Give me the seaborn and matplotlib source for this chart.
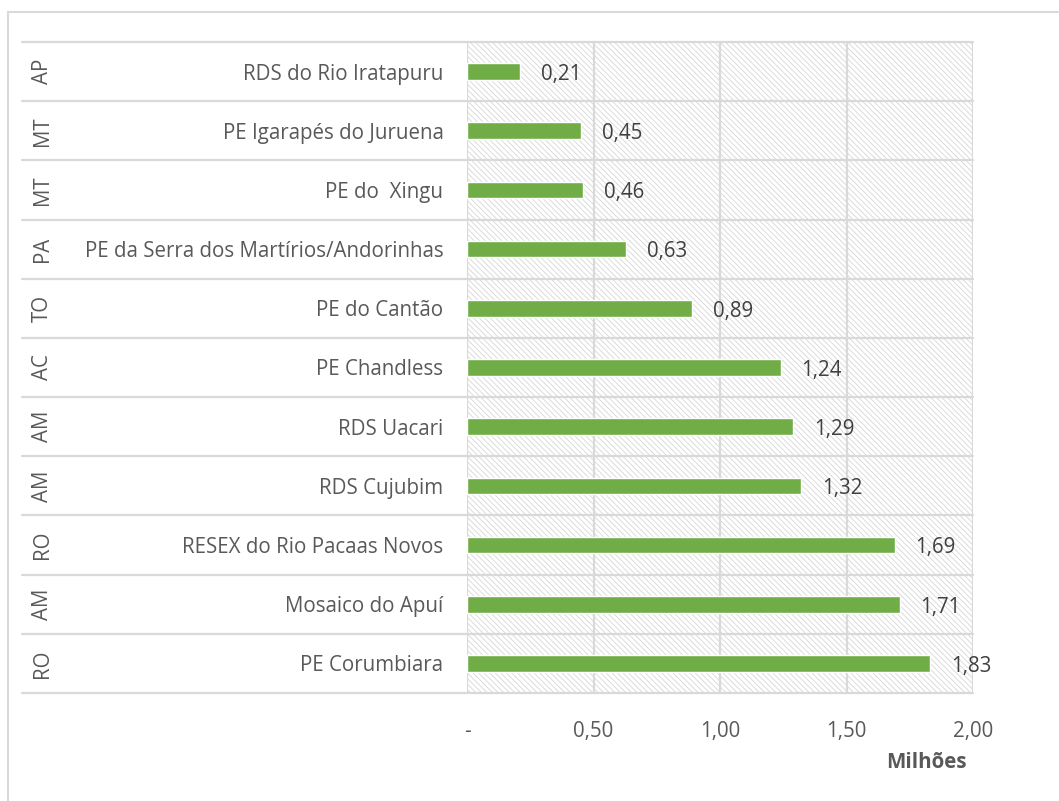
import matplotlib
matplotlib.use("Agg")
import matplotlib.pyplot as plt
from matplotlib.patches import Rectangle
from matplotlib.lines import Line2D
import seaborn as sns
import pandas as pd

states = ["AP", "MT", "MT", "PA", "TO", "AC", "AM", "AM", "RO", "AM", "RO"]
units = ["RDS do Rio Iratapuru", "PE Igarapés do Juruena", "PE do  Xingu",
         "PE da Serra dos Martírios/Andorinhas", "PE do Cantão", "PE Chandless",
         "RDS Uacari", "RDS Cujubim", "RESEX do Rio Pacaas Novos",
         "Mosaico do Apuí", "PE Corumbiara"]
values = [0.21, 0.45, 0.46, 0.63, 0.89, 1.24, 1.29, 1.32, 1.69, 1.71, 1.83]
xticks = [0, 0.5, 1.0, 1.5, 2.0]
xticklabels = ["-", "0,50", "1,00", "1,50", "2,00"]

sns.set_theme(style="white")
plt.rcParams["font.family"] = ["Open Sans", "DejaVu Sans"]
plt.rcParams["hatch.linewidth"] = 0.6

TXT = "#595959"
GRID = "#d9d9d9"
FS = 14.8
W, H = 1059, 801

df = pd.DataFrame({"unit": units, "value": values, "state": states})

fig = plt.figure(figsize=(W / 100, H / 100), dpi=100)
ax = fig.add_axes([467 / W, 1 - 693 / H, (973 - 467) / W, (693 - 42) / H])

bg = Rectangle((0, 0), 1, 1, transform=ax.transAxes, facecolor="white",
               edgecolor="#d6d6d6", hatch="\\\\\\\\\\\\", lw=0, zorder=0)
ax.add_patch(bg)

sns.barplot(data=df, x="value", y="unit", orient="h", color="#70AD47",
            saturation=1, width=0.28, ax=ax, zorder=3)

ax.set_xlim(0, 2.0)
ax.set_ylim(len(units) - 0.5, -0.5)
ax.set_xticks(xticks)
ax.set_xticklabels(xticklabels, color=TXT, fontsize=FS)
ax.tick_params(axis="x", length=0, pad=20)
ax.tick_params(axis="y", length=0, pad=17, labelsize=FS, labelcolor=TXT)
ax.set_xlabel("")
ax.set_ylabel("")
for s in ax.spines.values():
    s.set_visible(False)

# vertical gridlines
for xv in xticks:
    ax.axvline(xv, color=GRID, lw=1.6, zorder=1)

# horizontal separators extending into the label area
left_ext = (22 - 467) / (973 - 467)
ytr = ax.get_yaxis_transform()
for i in range(len(units) + 1):
    yb = i - 0.5
    ax.plot([left_ext, 1], [yb, yb], transform=ytr, color=GRID, lw=1.6,
            clip_on=False, zorder=1)

# state labels
state_x = (42 - 467) / (973 - 467)
for i, st in enumerate(states):
    ax.text(state_x, i, st, transform=ytr, rotation=90, ha="center",
            va="center", color=TXT, fontsize=FS)

# value labels
for i, v in enumerate(values):
    ax.annotate(f"{v:.2f}".replace(".", ","), xy=(v, i), xytext=(15, -2),
                textcoords="offset points", ha="left", va="center",
                color="#404040", fontsize=FS, zorder=4)

fig.text(967 / W, 1 - 762 / H, "Milhões", ha="right", va="center",
         fontsize=FS, fontweight="bold", color=TXT)

# outer chart border
fig.add_artist(Line2D([8 / W, 1058 / W], [1 - 12 / H, 1 - 12 / H],
                      transform=fig.transFigure, color=GRID, lw=1.5))
fig.add_artist(Line2D([8 / W, 8 / W], [1 - 12 / H, 0],
                      transform=fig.transFigure, color=GRID, lw=1.5))

fig.savefig("out.png", dpi=100)
